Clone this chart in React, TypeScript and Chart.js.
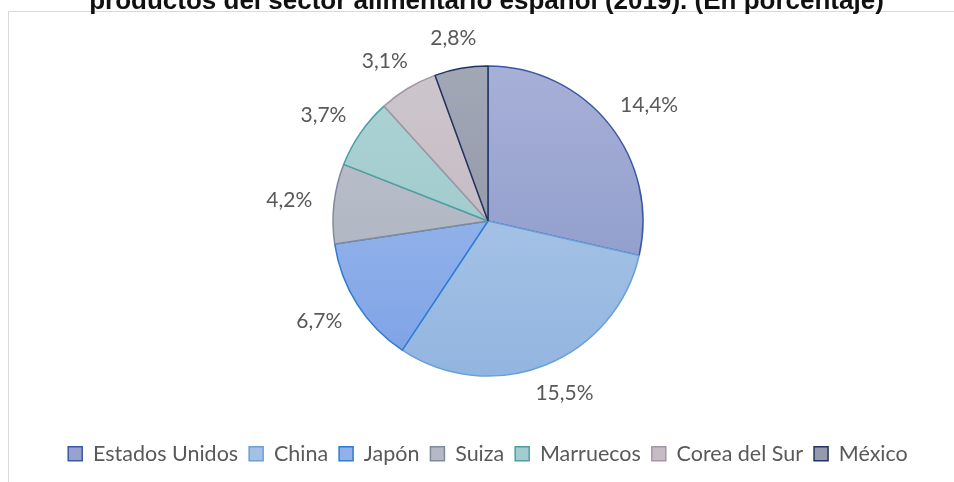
import React, { useEffect, useRef } from "react";
import { Chart, registerables } from "chart.js";

Chart.register(...registerables);

const titleText = "productos del sector alimentario español (2019). (En porcentaje)";
const categories = ["Estados Unidos", "China", "Japón", "Suiza", "Marruecos", "Corea del Sur", "México"];
const values = [14.4, 15.5, 6.7, 4.2, 3.7, 3.1, 2.8];

const topColors = ["#a7b0d7", "#b5cde9", "#a5bfec", "#bdc3cd", "#aed3d5", "#cec6cd", "#a2a7b6"];
const bottomColors = ["#8694c7", "#92b5e0", "#7ca2e6", "#a8afbd", "#96c5c5", "#bcb2bc", "#8a90a2"];
const borderColors = ["#3b58a6", "#6aa0d8", "#2e7bd6", "#7f8b9c", "#4ba0a2", "#a596a5", "#1f3460"];
const legendFill = ["#97a2cf", "#a4c1e5", "#90b1e9", "#b3b9c5", "#a2cccd", "#c5bcc5", "#969bac"];

const PIE_RADIUS = 155;
const LABEL_FONT = "21px Lato";
const TEXT_COLOR = "#595959";

const fmt = (v: number) => v.toFixed(1).replace(".", ",") + "%";

const framePlugin = {
  id: "frame",
  beforeDraw(chart: any) {
    const ctx = chart.ctx as CanvasRenderingContext2D;
    ctx.save();
    ctx.fillStyle = "#ffffff";
    ctx.fillRect(0, 0, chart.width, chart.height);
    ctx.strokeStyle = "#d9d9d9";
    ctx.lineWidth = 1;
    ctx.beginPath();
    ctx.moveTo(8.5, chart.height);
    ctx.lineTo(8.5, 11.5);
    ctx.lineTo(chart.width, 11.5);
    ctx.stroke();
    ctx.fillStyle = "#111111";
    ctx.font = "bold 26px 'Liberation Sans', Arial, sans-serif";
    ctx.textAlign = "center";
    ctx.textBaseline = "alphabetic";
    ctx.fillText(titleText, 486.5, 8.5);
    ctx.restore();
  },
};

const labelPlugin = {
  id: "outsideLabels",
  afterDatasetsDraw(chart: any) {
    const ctx = chart.ctx as CanvasRenderingContext2D;
    const meta = chart.getDatasetMeta(0);
    ctx.save();
    ctx.font = LABEL_FONT;
    ctx.fillStyle = TEXT_COLOR;
    ctx.textAlign = "center";
    ctx.textBaseline = "middle";
    meta.data.forEach((arc: any, i: number) => {
      const { x, y, startAngle, endAngle, outerRadius } = arc.getProps(
        ["x", "y", "startAngle", "endAngle", "outerRadius"],
        true
      );
      const mid = (startAngle + endAngle) / 2;
      const dx = Math.cos(mid);
      const dy = Math.sin(mid);
      const text = fmt(values[i]);
      const w = ctx.measureText(text).width;
      const h = 18;
      const r = outerRadius + 22;
      ctx.fillText(text, x + dx * r + (dx * w) / 2, y + dy * r + (dy * h) / 2);
    });
    ctx.restore();
  },
};

export default function App() {
  const ref = useRef<HTMLCanvasElement | null>(null);

  useEffect(() => {
    document.body.style.margin = "0";
    const canvas = ref.current;
    if (!canvas) return;
    const gradientFor = (c: any, i: number) => {
      const chart = c.chart;
      const area = chart.chartArea;
      if (!area) return topColors[i];
      const cy = (area.top + area.bottom) / 2;
      const g = chart.ctx.createLinearGradient(0, cy - PIE_RADIUS, 0, cy + PIE_RADIUS);
      g.addColorStop(0, topColors[i]);
      g.addColorStop(1, bottomColors[i]);
      return g;
    };
    const chart = new Chart(canvas, {
      type: "pie",
      data: {
        labels: categories,
        datasets: [
          {
            data: values,
            backgroundColor: (c: any) => gradientFor(c, c.dataIndex),
            borderColor: borderColors,
            borderWidth: 1.5,
          },
        ],
      },
      options: {
        animation: false,
        responsive: false,
        radius: PIE_RADIUS,
        layout: { padding: { top: 10, bottom: 7.5, left: 34, right: 12 } },
        plugins: {
          title: { display: false },
          tooltip: { enabled: false },
          legend: {
            display: true,
            position: "bottom",
            labels: {
              font: { family: "Lato", size: 21.5 },
              color: TEXT_COLOR,
              boxWidth: 14,
              boxHeight: 14,
              padding: 11,
              generateLabels: () =>
                categories.map((name, i) => ({
                  text: name,
                  fillStyle: legendFill[i],
                  strokeStyle: borderColors[i],
                  lineWidth: 1.5,
                  fontColor: TEXT_COLOR,
                  hidden: false,
                  index: i,
                })),
            },
          },
        },
      } as any,
      plugins: [framePlugin, labelPlugin],
    });
    return () => chart.destroy();
  }, []);

  return <canvas ref={ref} width={954} height={482} style={{ display: "block" }} />;
}
